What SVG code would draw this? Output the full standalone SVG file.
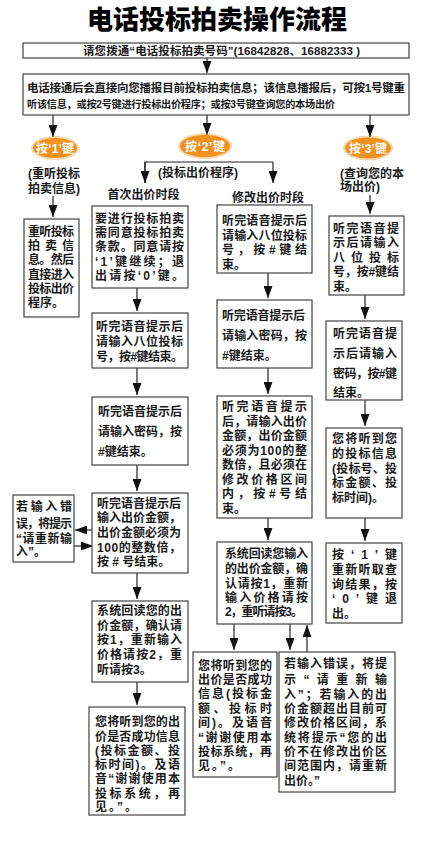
<svg xmlns="http://www.w3.org/2000/svg" width="435" height="852" viewBox="0 0 435 852">
<style>
.t{font-family:'Liberation Sans','Noto Sans CJK SC',sans-serif;font-weight:bold;font-size:12px;fill:#1a1a1a}
.s{font-size:11.5px}
.xs{font-size:10.2px}
.title{font-family:'Noto Sans CJK SC',sans-serif;font-weight:900;font-size:26px;fill:#000}
.box{fill:#fff;stroke:#444;stroke-width:1.2}
.key{fill:#F0901E}
.glow{fill:#F0901E;opacity:0.35}
.kt{font-family:'Liberation Sans','Noto Sans CJK SC',sans-serif;font-weight:bold;font-size:12px;fill:#fff}
.c line,.c polyline{stroke:#222;stroke-width:1.2;fill:none}
</style>
<defs>
<marker id="ah" viewBox="0 0 12 9" refX="12" refY="4.5" markerWidth="12" markerHeight="9" markerUnits="userSpaceOnUse" orient="auto">
<path d="M0,0 L12,4.5 L0,9 z" fill="#111"/>
</marker>
</defs>
<rect width="435" height="852" fill="#fff"/>
<text class="title" x="217" y="29" text-anchor="middle">电话投标拍卖操作流程</text>

<g id="connectors" class="c">
<line x1="207" y1="58" x2="207" y2="73" marker-end="url(#ah)"/>
<line x1="53" y1="115" x2="53" y2="137" marker-end="url(#ah)"/>
<line x1="207" y1="115" x2="207" y2="135" marker-end="url(#ah)"/>
<line x1="370" y1="115" x2="370" y2="137" marker-end="url(#ah)"/>
<polyline points="145,183 145,162 273,162"/>
<line x1="145" y1="162" x2="145" y2="183" marker-end="url(#ah)"/>
<line x1="273" y1="162" x2="273" y2="183" marker-end="url(#ah)"/>
<line x1="53" y1="196" x2="53" y2="217" marker-end="url(#ah)"/>
<line x1="137" y1="288" x2="137" y2="311" marker-end="url(#ah)"/>
<line x1="137" y1="368" x2="137" y2="395" marker-end="url(#ah)"/>
<line x1="137" y1="465" x2="137" y2="491" marker-end="url(#ah)"/>
<line x1="92" y1="530" x2="75" y2="530" marker-end="url(#ah)"/>
<line x1="74" y1="546" x2="93" y2="546" marker-end="url(#ah)"/>
<line x1="137" y1="573" x2="137" y2="599" marker-end="url(#ah)"/>
<line x1="137" y1="682" x2="137" y2="705" marker-end="url(#ah)"/>
<line x1="268" y1="273" x2="268" y2="298" marker-end="url(#ah)"/>
<line x1="268" y1="368" x2="268" y2="394" marker-end="url(#ah)"/>
<line x1="268" y1="518" x2="268" y2="540" marker-end="url(#ah)"/>
<line x1="234" y1="624" x2="234" y2="650" marker-end="url(#ah)"/>
<line x1="290" y1="624" x2="290" y2="650" marker-end="url(#ah)"/>
<line x1="307" y1="652" x2="307" y2="625" marker-end="url(#ah)"/>
<line x1="370" y1="195" x2="370" y2="214" marker-end="url(#ah)"/>
<line x1="365" y1="295" x2="365" y2="319" marker-end="url(#ah)"/>
<line x1="365" y1="400" x2="365" y2="426" marker-end="url(#ah)"/>
<line x1="365" y1="518" x2="365" y2="541" marker-end="url(#ah)"/>
</g>

<g id="start">
<rect class="box" x="23" y="43" width="386" height="15"/>
<text class="t s" x="83" y="54.5" textLength="277" lengthAdjust="spacing">请您拨通“电话投标拍卖号码”(16842828、16882333 )</text>
</g>

<g id="connected">
<rect class="box" x="23" y="74" width="386" height="41"/>
<text class="t s" x="27" y="91.5" textLength="378" lengthAdjust="spacing">电话接通后会直接向您播报目前投标拍卖信息；该信息播报后，可按1号键重</text>
<text class="t xs" x="27" y="107.5" textLength="308" lengthAdjust="spacing">听该信息，或按2号键进行投标出价程序；或按3号键查询您的本场出价</text>
</g>

<g id="key1">
<ellipse class="glow" cx="55" cy="148" rx="24" ry="12"/>
<ellipse class="key" cx="55" cy="148" rx="22" ry="10"/>
<text class="kt" x="36" y="152.5" textLength="38" lengthAdjust="spacing">按‘1’键</text>
<text class="t" x="54" y="177.5" text-anchor="middle">(重听投标</text>
<text class="t" x="54" y="192.5" text-anchor="middle">拍卖信息)</text>
</g>

<g id="key2">
<ellipse class="glow" cx="205" cy="146" rx="27" ry="13"/>
<ellipse class="key" cx="205" cy="146" rx="25" ry="11"/>
<text class="kt" x="185" y="150.5" textLength="40" lengthAdjust="spacing">按‘2’键</text>
<text class="t" x="198" y="176.5" text-anchor="middle">(投标出价程序)</text>
<text class="t" x="143.5" y="198.5" text-anchor="middle">首次出价时段</text>
<text class="t" x="268" y="201.5" text-anchor="middle">修改出价时段</text>
</g>

<g id="key3">
<ellipse class="glow" cx="368" cy="148" rx="25" ry="12.5"/>
<ellipse class="key" cx="368" cy="148" rx="23" ry="10.5"/>
<text class="kt" x="349" y="152.5" textLength="38" lengthAdjust="spacing">按‘3’键</text>
<text class="t" x="340" y="177.5">(查询您的本</text>
<text class="t" x="340" y="190.5">场出价)</text>
</g>

<g id="a-replay">
<rect class="box" x="24" y="219" width="55" height="98"/>
<text class="t" x="28" y="236" textLength="46" lengthAdjust="spacing">重听投标</text>
<text class="t" x="28" y="250.2" textLength="46" lengthAdjust="spacing">拍卖信</text>
<text class="t" x="28" y="264.4" textLength="46" lengthAdjust="spacing">息。然后</text>
<text class="t" x="28" y="278.6" textLength="46" lengthAdjust="spacing">直接进入</text>
<text class="t" x="28" y="292.8" textLength="46" lengthAdjust="spacing">投标出价</text>
<text class="t" x="28" y="307">程序。</text>
</g>

<g id="b-terms">
<rect class="box" x="92" y="206" width="96" height="82"/>
<text class="t" x="95" y="222.5" textLength="89" lengthAdjust="spacing">要进行投标拍卖</text>
<text class="t" x="95" y="237" textLength="89" lengthAdjust="spacing">需同意投标拍卖</text>
<text class="t" x="95" y="251" textLength="89" lengthAdjust="spacing">条款。同意请按</text>
<text class="t" x="95" y="266" textLength="89" lengthAdjust="spacing">‘1’键继续；退</text>
<text class="t" x="95" y="280" textLength="89" lengthAdjust="spacing">出请按‘0’键。</text>
</g>

<g id="c-number1">
<rect class="box" x="92" y="313" width="96" height="55"/>
<text class="t" x="96" y="331" textLength="87" lengthAdjust="spacing">听完语音提示后</text>
<text class="t" x="96" y="346" textLength="87" lengthAdjust="spacing">请输入八位投标</text>
<text class="t" x="96" y="361" textLength="87" lengthAdjust="spacing">号，按#键结束。</text>
</g>

<g id="d-password1">
<rect class="box" x="92" y="397" width="96" height="68"/>
<text class="t" x="98" y="416" textLength="84" lengthAdjust="spacing">听完语音提示后</text>
<text class="t" x="98" y="436" textLength="84" lengthAdjust="spacing">请输入密码，按</text>
<text class="t" x="98" y="456">#键结束。</text>
</g>

<g id="e-amount1">
<rect class="box" x="92" y="493" width="96" height="80"/>
<text class="t" x="97" y="508" textLength="84" lengthAdjust="spacing">听完语音提示后</text>
<text class="t" x="97" y="522" textLength="84" lengthAdjust="spacing">输入出价金额，</text>
<text class="t" x="97" y="537" textLength="84" lengthAdjust="spacing">出价金额必须为</text>
<text class="t" x="97" y="551.5" textLength="84" lengthAdjust="spacing">100的整数倍，</text>
<text class="t" x="97" y="566">按 # 号结束。</text>
</g>

<g id="f-error1">
<rect class="box" x="13" y="495" width="61" height="67"/>
<text class="t" x="16" y="510.5" textLength="56" lengthAdjust="spacing">若输入错</text>
<text class="t" x="16" y="528" textLength="56" lengthAdjust="spacing">误，将提示</text>
<text class="t" x="16" y="543" textLength="56" lengthAdjust="spacing">“请重新输</text>
<text class="t" x="16" y="556">入”。</text>
</g>

<g id="g-confirm1">
<rect class="box" x="92" y="601" width="96" height="81"/>
<text class="t" x="97" y="614.5" textLength="85" lengthAdjust="spacing">系统回读您的出</text>
<text class="t" x="97" y="629.5" textLength="85" lengthAdjust="spacing">价金额，确认请</text>
<text class="t" x="97" y="644" textLength="85" lengthAdjust="spacing">按1，重新输入</text>
<text class="t" x="97" y="658.5" textLength="85" lengthAdjust="spacing">价格请按2，重</text>
<text class="t" x="97" y="673.5">听请按3。</text>
</g>

<g id="h-result1">
<rect class="box" x="89" y="707" width="96" height="108"/>
<text class="t" x="95" y="726" textLength="85" lengthAdjust="spacing">您将听到您的出</text>
<text class="t" x="95" y="740.5" textLength="85" lengthAdjust="spacing">价是否成功信息</text>
<text class="t" x="95" y="754.5" textLength="85" lengthAdjust="spacing">(投标金额、投</text>
<text class="t" x="95" y="768.5" textLength="85" lengthAdjust="spacing">标时间)。及语</text>
<text class="t" x="95" y="783" textLength="85" lengthAdjust="spacing">音“谢谢使用本</text>
<text class="t" x="95" y="798" textLength="85" lengthAdjust="spacing">投标系统，再</text>
<text class="t" x="95" y="811" textLength="42" lengthAdjust="spacing">见。”。</text>
</g>

<g id="i-number2">
<rect class="box" x="217" y="205" width="95" height="68"/>
<text class="t" x="222" y="224.5" textLength="85" lengthAdjust="spacing">听完语音提示后</text>
<text class="t" x="222" y="239.5" textLength="85" lengthAdjust="spacing">请输入八位投标</text>
<text class="t" x="222" y="254" textLength="85" lengthAdjust="spacing">号，按#键结</text>
<text class="t" x="222" y="268.5">束。</text>
</g>

<g id="j-password2">
<rect class="box" x="217" y="300" width="95" height="68"/>
<text class="t" x="222" y="319.5" textLength="83" lengthAdjust="spacing">听完语音提示后</text>
<text class="t" x="222" y="339.5" textLength="85" lengthAdjust="spacing">请输入密码，按</text>
<text class="t" x="222" y="359.5">#键结束。</text>
</g>

<g id="k-amount2">
<rect class="box" x="217" y="396" width="95" height="122"/>
<text class="t" x="222" y="411" textLength="85" lengthAdjust="spacing">听完语音提示</text>
<text class="t" x="222" y="425.5" textLength="85" lengthAdjust="spacing">后，请输入出价</text>
<text class="t" x="222" y="440" textLength="85" lengthAdjust="spacing">金额，出价金额</text>
<text class="t" x="222" y="454.5" textLength="85" lengthAdjust="spacing">必须为100的整</text>
<text class="t" x="222" y="469" textLength="85" lengthAdjust="spacing">数倍，且必须在</text>
<text class="t" x="222" y="483.5" textLength="85" lengthAdjust="spacing">修改价格区间</text>
<text class="t" x="222" y="498" textLength="85" lengthAdjust="spacing">内，按#号结</text>
<text class="t" x="222" y="512.5">束。</text>
</g>

<g id="l-confirm2">
<rect class="box" x="217" y="542" width="95" height="82"/>
<text class="t" x="225" y="558" textLength="83" lengthAdjust="spacing">系统回读您输入</text>
<text class="t" x="225" y="573" textLength="83" lengthAdjust="spacing">的出价金额，确</text>
<text class="t" x="225" y="587.5" textLength="83" lengthAdjust="spacing">认请按1，重新</text>
<text class="t" x="225" y="602" textLength="83" lengthAdjust="spacing">输入价格请按</text>
<text class="t" x="225" y="616" textLength="78" lengthAdjust="spacing">2，重听请按3。</text>
</g>

<g id="m-number3">
<rect class="box" x="329" y="216" width="75" height="79"/>
<text class="t" x="333" y="233" textLength="66" lengthAdjust="spacing">听完语音提</text>
<text class="t" x="333" y="247" textLength="66" lengthAdjust="spacing">示后请输入</text>
<text class="t" x="333" y="262" textLength="66" lengthAdjust="spacing">八位投标</text>
<text class="t" x="333" y="276" textLength="66" lengthAdjust="spacing">号，按#键结</text>
<text class="t" x="333" y="291">束。</text>
</g>

<g id="n-password3">
<rect class="box" x="326" y="321" width="76" height="79"/>
<text class="t" x="333" y="337.5" textLength="64" lengthAdjust="spacing">听完语音提</text>
<text class="t" x="333" y="357.5" textLength="64" lengthAdjust="spacing">示后请输入</text>
<text class="t" x="333" y="377.5" textLength="64" lengthAdjust="spacing">密码，按#键</text>
<text class="t" x="333" y="396.5">结束。</text>
</g>

<g id="o-info3">
<rect class="box" x="326" y="428" width="76" height="90"/>
<text class="t" x="332" y="442.5" textLength="65" lengthAdjust="spacing">您将听到您</text>
<text class="t" x="332" y="457.5" textLength="65" lengthAdjust="spacing">的投标信息</text>
<text class="t" x="332" y="472.5" textLength="65" lengthAdjust="spacing">(投标号、投</text>
<text class="t" x="332" y="487" textLength="65" lengthAdjust="spacing">标金额、投</text>
<text class="t" x="332" y="501.5">标时间)。</text>
</g>

<g id="p-exit3">
<rect class="box" x="326" y="543" width="76" height="80"/>
<text class="t" x="332" y="558.5" textLength="65" lengthAdjust="spacing">按‘1’键</text>
<text class="t" x="332" y="573.5" textLength="65" lengthAdjust="spacing">重新听取查</text>
<text class="t" x="332" y="588.5" textLength="65" lengthAdjust="spacing">询结果，按</text>
<text class="t" x="332" y="602.5" textLength="65" lengthAdjust="spacing">‘0’键退</text>
<text class="t" x="332" y="617.5">出。</text>
</g>

<g id="q-result2">
<rect class="box" x="193" y="652" width="84" height="125"/>
<text class="t" x="198" y="669.5" textLength="74" lengthAdjust="spacing">您将听到您的</text>
<text class="t" x="198" y="683.9" textLength="74" lengthAdjust="spacing">出价是否成功</text>
<text class="t" x="198" y="698.3" textLength="74" lengthAdjust="spacing">信息(投标金</text>
<text class="t" x="198" y="712.7" textLength="74" lengthAdjust="spacing">额、投标时</text>
<text class="t" x="198" y="727.1" textLength="74" lengthAdjust="spacing">间)。及语音</text>
<text class="t" x="198" y="741.5" textLength="74" lengthAdjust="spacing">“谢谢使用本</text>
<text class="t" x="198" y="755.9" textLength="74" lengthAdjust="spacing">投标系统，再</text>
<text class="t" x="198" y="770.3" textLength="42" lengthAdjust="spacing">见。”。</text>
</g>

<g id="r-error2">
<rect class="box" x="279" y="652" width="116" height="140"/>
<text class="t" x="284" y="668" textLength="103" lengthAdjust="spacing">若输入错误，将提</text>
<text class="t" x="284" y="684" textLength="103" lengthAdjust="spacing">示“请重新输</text>
<text class="t" x="284" y="698.5" textLength="103" lengthAdjust="spacing">入”；若输入的出</text>
<text class="t" x="284" y="713" textLength="103" lengthAdjust="spacing">价金额超出目前可</text>
<text class="t" x="284" y="727" textLength="103" lengthAdjust="spacing">修改价格区间，系</text>
<text class="t" x="284" y="741.5" textLength="103" lengthAdjust="spacing">统将提示“您的出</text>
<text class="t" x="284" y="756" textLength="103" lengthAdjust="spacing">价不在修改出价区</text>
<text class="t" x="284" y="770" textLength="103" lengthAdjust="spacing">间范围内，请重新</text>
<text class="t" x="284" y="784.5">出价。”</text>
</g>
</svg>
